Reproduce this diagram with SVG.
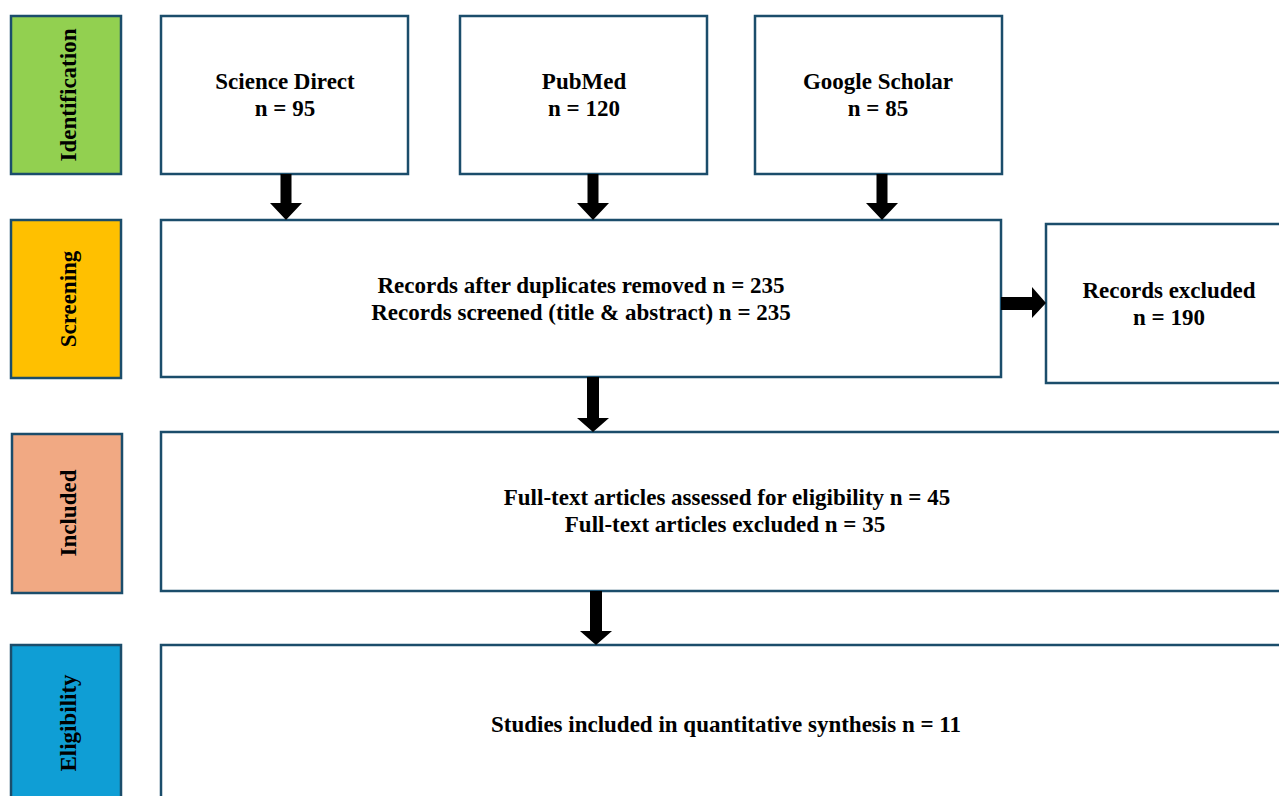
<svg xmlns="http://www.w3.org/2000/svg" width="1279" height="796" viewBox="0 0 1279 796">
<style>
.lab{stroke:#1b4d6b;stroke-width:2.5}
.box{fill:#fff;stroke:#1b4d6b;stroke-width:2.5}
text{font-family:"Liberation Serif","Times New Roman",serif;font-weight:bold;font-size:23px;fill:#000;text-anchor:middle}
.arr{fill:#000}
</style>
<rect width="1279" height="796" fill="#fff"/>
<g id="stage-identification"><rect class="lab" x="11" y="16" width="110" height="158" fill="#92d050"/><text transform="translate(76,95) rotate(-90)">Identification</text></g>
<g id="stage-screening"><rect class="lab" x="11" y="220" width="110" height="158" fill="#ffc000"/><text transform="translate(76,299) rotate(-90)">Screening</text></g>
<g id="stage-included"><rect class="lab" x="12" y="434" width="110" height="159" fill="#f1a983"/><text transform="translate(76,513) rotate(-90)">Included</text></g>
<g id="stage-eligibility"><rect class="lab" x="11" y="645" width="110" height="160" fill="#0f9ed5"/><text transform="translate(76,723) rotate(-90)">Eligibility</text></g>
<g id="science-direct"><rect class="box" x="161" y="16" width="247" height="158"/><text x="285" y="89">Science Direct</text><text x="285" y="116">n = 95</text></g>
<g id="pubmed"><rect class="box" x="460" y="16" width="247" height="158"/><text x="584" y="89">PubMed</text><text x="584" y="116">n = 120</text></g>
<g id="google-scholar"><rect class="box" x="755" y="16" width="247" height="158"/><text x="878" y="89">Google Scholar</text><text x="878" y="116">n = 85</text></g>
<g id="screening"><rect class="box" x="161" y="220" width="840" height="157"/><text x="581" y="293">Records after duplicates removed n = 235</text><text x="581" y="320">Records screened (title &amp; abstract) n = 235</text></g>
<g id="records-excluded"><rect class="box" x="1046" y="224" width="245" height="159"/><text x="1169" y="298">Records excluded</text><text x="1169" y="325">n = 190</text></g>
<g id="full-text"><rect class="box" x="161" y="432" width="1130" height="159"/><text x="727" y="505">Full-text articles assessed for eligibility n = 45</text><text x="725" y="532"> Full-text articles excluded n = 35</text></g>
<g id="studies-included"><rect class="box" x="161" y="645" width="1130" height="170"/><text x="726" y="732">Studies included in quantitative synthesis n = 11</text></g>
<g id="connectors">
<polygon class="arr" points="280.5,174 291.5,174 291.5,203 302,203 286,220 270,203 280.5,203"/>
<polygon class="arr" points="587.5,174 598.5,174 598.5,203 609,203 593,220 577,203 587.5,203"/>
<polygon class="arr" points="876.5,174 887.5,174 887.5,203 898,203 882,220 866,203 876.5,203"/>
<polygon class="arr" points="587,377 599,377 599,418 609,418 593,432 577,418 587,418"/>
<polygon class="arr" points="590,591 602,591 602,631 612,631 596,645 580,631 590,631"/>
<polygon class="arr" points="1001,297 1032,297 1032,287 1046,303 1032,318 1032,310 1001,310"/>
</g>
</svg>
